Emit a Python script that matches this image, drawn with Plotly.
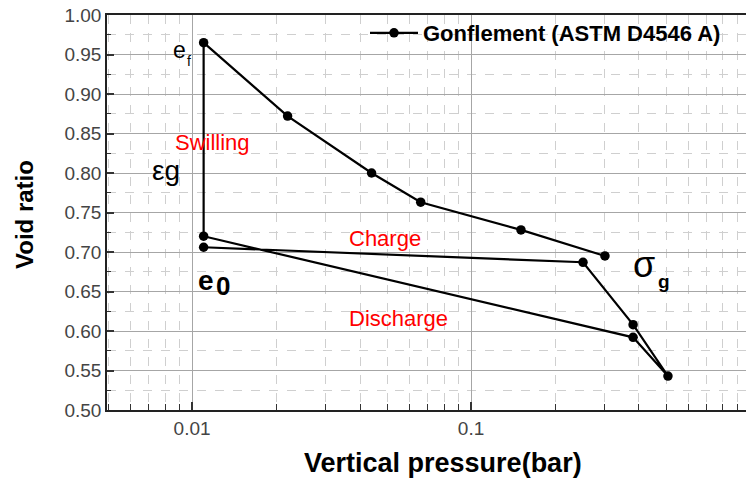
import plotly.graph_objects as go

# Data (loading path order)
pressure = [0.011, 0.252, 0.381, 0.508, 0.381, 0.011, 0.011, 0.022, 0.044, 0.066, 0.151, 0.302]
void_ratio = [0.706, 0.687, 0.608, 0.543, 0.592, 0.720, 0.965, 0.872, 0.800, 0.763, 0.728, 0.695]
series_name = "Gonflement (ASTM D4546 A)"
x_tick_vals = [0.01, 0.1]
x_tick_text = ["0.01", "0.1"]
x_minor_vals = [0.005, 0.006, 0.007, 0.008, 0.009,
                0.02, 0.03, 0.04, 0.05, 0.06, 0.07, 0.08, 0.09,
                0.2, 0.3, 0.4, 0.5, 0.6, 0.7, 0.8, 0.9]

W, H = 746, 486
L, R, T, B = 107, 0, 15, 76
PW, PH = W - L - R, H - T - B

def px(xp):
    return (xp - L) / PW

def py(yp):
    return (H - B - yp) / PH

FONT = "Arial, Liberation Sans, sans-serif"

fig = go.Figure()
fig.add_trace(go.Scatter(
    x=pressure, y=void_ratio, mode="lines+markers", name=series_name,
    line=dict(color="black", width=2.2),
    marker=dict(color="black", size=9.5, symbol="circle"),
))

fig.update_layout(
    width=W, height=H,
    margin=dict(l=L, r=R, t=T, b=B),
    paper_bgcolor="white", plot_bgcolor="white",
    font=dict(family=FONT, color="#333"),
    showlegend=True,
    legend=dict(x=px(365), y=py(12), xanchor="left", yanchor="top",
                bgcolor="rgba(0,0,0,0)", borderwidth=0, itemwidth=48,
                font=dict(family=FONT, size=22, color="black", weight="bold")),
    xaxis=dict(
        type="log", range=[-2.305, -2 + (W - 192) / 279],
        tickmode="array", tickvals=x_tick_vals, ticktext=x_tick_text,
        ticks="inside", ticklen=8, tickcolor="#333", tickwidth=1.5,
        tickfont=dict(size=19, color="#444"),
        showgrid=True, gridcolor="#a6a6a6", gridwidth=1,
        showline=True, linecolor="#222", linewidth=1.5, mirror=True,
        zeroline=False,
        minor=dict(tickmode="array", tickvals=x_minor_vals, ticks="inside",
                   ticklen=6, tickcolor="#333", tickwidth=1.2,
                   showgrid=True, gridcolor="#cfcfcf", griddash="dash", gridwidth=1),
    ),
    yaxis=dict(
        range=[0.5, 1.0], dtick=0.05, tick0=0.5, tickformat=".2f",
        ticks="inside", ticklen=7, tickcolor="#333", tickwidth=1.5,
        tickfont=dict(size=19, color="#444"),
        showgrid=True, gridcolor="#a6a6a6", gridwidth=1,
        showline=True, linecolor="#222", linewidth=1.5,
        zeroline=False,
        minor=dict(dtick=0.025, tick0=0.5, ticks="inside", ticklen=4,
                   tickcolor="#333", tickwidth=1.2,
                   showgrid=True, gridcolor="#cfcfcf", griddash="dash", gridwidth=1),
    ),
)

# white legend area covering gridlines
fig.add_shape(type="rect", xref="paper", yref="paper",
              x0=px(325), x1=1.0, y0=py(63), y1=1.0,
              fillcolor="white", line=dict(width=0), layer="between")

def ann(text, x, y, size, color="black", bold=False, textangle=0):
    fig.add_annotation(text=text, xref="paper", yref="paper", x=px(x), y=py(y),
                       xanchor="center", yanchor="middle", showarrow=False,
                       textangle=textangle,
                       font=dict(family=FONT, size=size, color=color,
                                 weight="bold" if bold else "normal"))

ann("Vertical pressure(bar)", 443, 463, 27, bold=True)
ann("Void ratio", 24, 215, 24, bold=True, textangle=-90)
ann("Swilling", 212, 142, 22, color="red")
ann("Charge", 385, 238, 22, color="red")
ann("Discharge", 398, 318, 22, color="red")
ann("e", 179, 50, 23)
ann("f", 189, 61, 14)
ann("εg", 166, 170, 28)
ann("e", 206, 280, 28, bold=True)
ann("0", 223, 286, 26, bold=True)
ann("σ", 644, 264, 36)
ann("g", 664, 281, 19, bold=True)

fig.write_html("out.html")
